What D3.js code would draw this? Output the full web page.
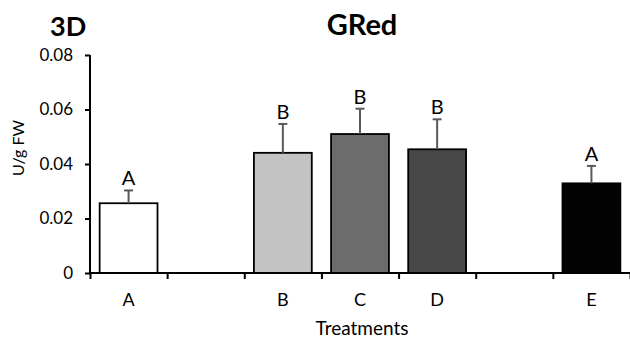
<!DOCTYPE html>
<html>
<head>
<meta charset="utf-8">
<script src="https://cdn.jsdelivr.net/npm/d3@7"></script>
<style>
  body { margin: 0; background: #fff; }
  svg { display: block; font-family: Lato, 'Open Sans', sans-serif; }
</style>
</head>
<body>
<div id="chart"></div>
<script>
// slots along the x axis, empty ones are gaps between groups
const slots = ['A', 'gap1', 'B', 'C', 'D', 'gap2', 'E'];
const treatments = ['A', 'B', 'C', 'D', 'E'];
const means = [0.0256, 0.0441, 0.0510, 0.0454, 0.0329];
const errors = [0.0047, 0.0106, 0.0093, 0.0110, 0.0064];
const groups = ['A', 'B', 'B', 'B', 'A'];
const fills = ['#ffffff', '#c3c3c3', '#6c6c6c', '#484848', '#030303'];
const yTicks = [0, 0.02, 0.04, 0.06, 0.08];

const width = 630;
const height = 339;
const margin = { top: 55, right: 0, bottom: 66, left: 90 };
const innerW = width - margin.left - margin.right;
const innerH = height - margin.top - margin.bottom;

const svg = d3.select('#chart')
  .append('svg')
  .attr('width', width)
  .attr('height', height);

const chart = svg.append('g')
  .attr('transform', `translate(${margin.left},${margin.top})`);

const x = d3.scaleBand()
  .domain(slots)
  .range([0, innerW])
  .paddingInner(0.25)
  .paddingOuter(0.125);

const xEdges = d3.scaleLinear()
  .domain([0, slots.length])
  .range([0, innerW]);

const y = d3.scaleLinear()
  .domain([0, 0.08])
  .range([innerH, 0]);

// bars
const data = treatments.map((t, i) => ({
  t, mean: means[i], err: errors[i], group: groups[i], fill: fills[i],
}));

chart.selectAll('.bar')
  .data(data)
  .join('rect')
  .attr('class', 'bar')
  .attr('x', (d) => x(d.t))
  .attr('y', (d) => y(d.mean))
  .attr('width', x.bandwidth())
  .attr('height', (d) => y(0) - y(d.mean))
  .attr('fill', (d) => d.fill)
  .attr('stroke', '#000')
  .attr('stroke-width', 1.8);

// error bars (upper only)
const cx = (d) => x(d.t) + x.bandwidth() / 2;
chart.selectAll('.err')
  .data(data)
  .join('line')
  .attr('class', 'err')
  .attr('x1', cx)
  .attr('x2', cx)
  .attr('y1', (d) => y(d.mean))
  .attr('y2', (d) => y(d.mean + d.err))
  .attr('stroke', '#595959')
  .attr('stroke-width', 2);

chart.selectAll('.cap')
  .data(data)
  .join('line')
  .attr('class', 'cap')
  .attr('x1', (d) => cx(d) - 4.5)
  .attr('x2', (d) => cx(d) + 4.5)
  .attr('y1', (d) => y(d.mean + d.err))
  .attr('y2', (d) => y(d.mean + d.err))
  .attr('stroke', '#595959')
  .attr('stroke-width', 2);

chart.selectAll('.sig')
  .data(data)
  .join('text')
  .attr('class', 'sig')
  .attr('x', cx)
  .attr('y', (d) => y(d.mean + d.err) - 5)
  .attr('text-anchor', 'middle')
  .attr('font-size', '20px')
  .attr('fill', '#000')
  .text((d) => d.group);

// y axis
const yAxis = chart.append('g')
  .call(d3.axisLeft(y)
    .tickValues(yTicks)
    .tickSize(5)
    .tickPadding(12)
    .tickFormat((d) => (d === 0 ? '0' : d3.format('.2f')(d))));

yAxis.select('.domain')
  .attr('d', `M0,0V${innerH}`)
  .attr('stroke-width', 2);
yAxis.selectAll('.tick line').attr('stroke-width', 2);
yAxis.selectAll('.tick text')
  .attr('font-size', '17px')
  .attr('font-family', 'Lato, sans-serif')
  .attr('fill', '#000');

// x axis: tick marks at slot edges, labels at slot centres
const xAxis = chart.append('g')
  .attr('transform', `translate(0,${innerH})`)
  .call(d3.axisBottom(xEdges)
    .ticks(slots.length)
    .tickSize(6)
    .tickFormat(''));

xAxis.select('.domain')
  .attr('d', `M0,0H${innerW}`)
  .attr('stroke-width', 2);
xAxis.selectAll('.tick line').attr('stroke-width', 2);

const xLabels = chart.append('g')
  .attr('transform', `translate(0,${innerH})`)
  .call(d3.axisBottom(x)
    .tickSize(0)
    .tickPadding(20)
    .tickFormat((d) => (d.startsWith('gap') ? '' : d)));

xLabels.select('.domain').remove();
xLabels.selectAll('.tick text')
  .attr('font-size', '18px')
  .attr('font-family', 'Lato, sans-serif')
  .attr('fill', '#000');

// titles
svg.append('text')
  .attr('x', 50)
  .attr('y', 36)
  .attr('font-size', '27px')
  .attr('font-weight', 'bold')
  .text('3D');

svg.append('text')
  .attr('x', 362)
  .attr('y', 35)
  .attr('text-anchor', 'middle')
  .attr('font-size', '29px')
  .attr('font-weight', 'bold')
  .text('GRed');

svg.append('text')
  .attr('x', 362)
  .attr('y', 335)
  .attr('text-anchor', 'middle')
  .attr('font-size', '19px')
  .text('Treatments');

svg.append('text')
  .attr('transform', 'translate(24,148) rotate(-90)')
  .attr('text-anchor', 'middle')
  .attr('font-size', '16px')
  .text('U/g FW');
</script>
</body>
</html>
